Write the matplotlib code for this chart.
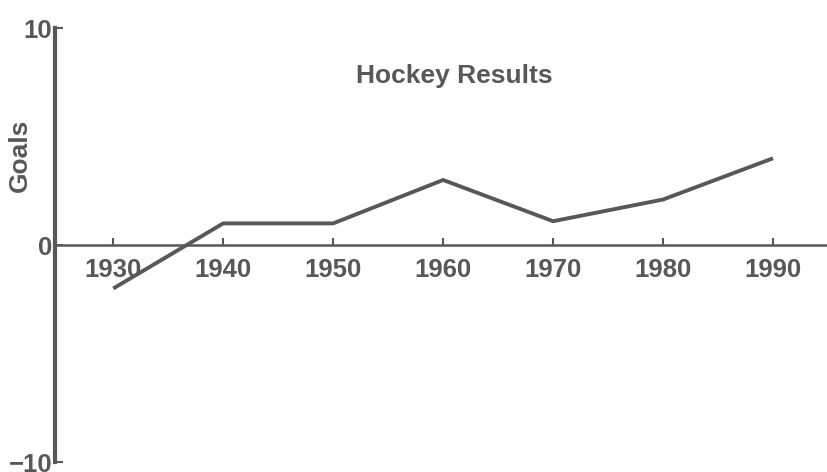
import matplotlib.pyplot as plt

years = [1930, 1940, 1950, 1960, 1970, 1980, 1990]
goals = [-2.0, 1.0, 1.0, 3.0, 1.1, 2.1, 4.0]
x_ticks = [1930, 1940, 1950, 1960, 1970, 1980, 1990]
y_ticks = [-10, 0, 10]

grey = '#585858'
plt.rcParams['font.family'] = ['Liberation Sans', 'DejaVu Sans']
plt.rcParams['font.weight'] = 'bold'

fig = plt.figure(figsize=(8.28, 4.72), dpi=100)
ax = fig.add_axes([0.0664, 0.021, 0.9336, 0.9195])

ax.plot(years, goals, color=grey, linewidth=2.8, solid_capstyle='butt')

ax.set_xlim(1924.7, 1995)
ax.set_ylim(-10, 10)

ax.spines['top'].set_visible(False)
ax.spines['right'].set_visible(False)
ax.spines['bottom'].set_position(('data', 0))
ax.spines['left'].set_linewidth(3)
ax.spines['bottom'].set_linewidth(1.8)
ax.spines['left'].set_color(grey)
ax.spines['bottom'].set_color(grey)

ax.set_xticks(x_ticks)
ax.set_yticks(y_ticks)
ax.tick_params(axis='x', direction='in', length=5, width=1.5, color=grey,
               labelsize=18.5, labelcolor=grey, pad=9)
ax.tick_params(axis='y', direction='in', length=6, width=1.5, color=grey,
               labelsize=18.5, labelcolor=grey, pad=2)

ax.set_ylabel('Goals', fontsize=19, color=grey, fontweight='bold')
ax.yaxis.set_label_coords(-0.030, 0.707)
ax.text(0.517, 0.89, 'Hockey Results', transform=ax.transAxes, ha='center',
        va='center', fontsize=19, color=grey, fontweight='bold')

fig.savefig('out.png', dpi=100)
